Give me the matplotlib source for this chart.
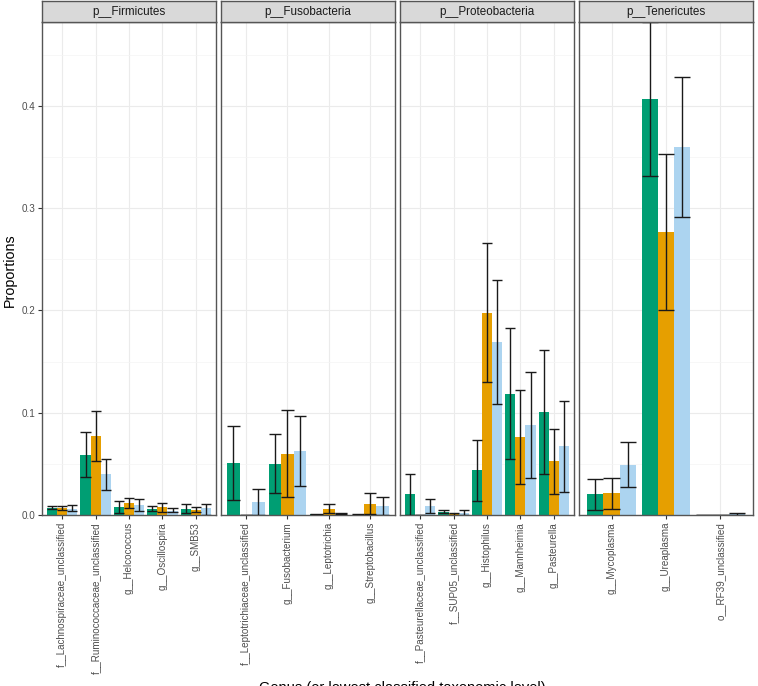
import numpy as np
import matplotlib
matplotlib.use("Agg")
import matplotlib.pyplot as plt

plt.rcParams["font.family"] = ["Liberation Sans", "DejaVu Sans"]

# ── données ───────────────────────────────────────────────────
phyla = ["p__Firmicutes", "p__Fusobacteria", "p__Proteobacteria", "p__Tenericutes"]

taxa_firmicutes = ["f__Lachnospiraceae_unclassified", "f__Ruminococcaceae_unclassified",
                   "g__Helcococcus", "g__Oscillospira", "g__SMB53"]
taxa_fusobacteria = ["f__Leptotrichiaceae_unclassified", "g__Fusobacterium",
                     "g__Leptotrichia", "g__Streptobacillus"]
taxa_proteobacteria = ["f__Pasteurellaceae_unclassified", "f__SUP05_unclassified",
                       "g__Histophilus", "g__Mannheimia", "g__Pasteurella"]
taxa_tenericutes = ["g__Mycoplasma", "g__Ureaplasma", "o__RF39_unclassified"]
taxa = [taxa_firmicutes, taxa_fusobacteria, taxa_proteobacteria, taxa_tenericutes]

# groupe 1 (vert)
g1_mean = [0.0071, 0.0587, 0.0078, 0.0062, 0.0062,
           0.0506, 0.0502, 0.0005, 0.0003,
           0.0208, 0.0030, 0.0437, 0.1184, 0.1005,
           0.0203, 0.4068, 0.0]
g1_low = [0.0056, 0.0369, 0.0017, 0.0040, 0.0020,
          0.0147, 0.0212, 0.0, 0.0,
          0.0, 0.0015, 0.0140, 0.0545, 0.0398,
          0.0046, 0.3317, 0.0]
g1_high = [0.0090, 0.0810, 0.0137, 0.0085, 0.0108,
           0.0868, 0.0790, 0.0010, 0.0006,
           0.0404, 0.0045, 0.0734, 0.1830, 0.1618,
           0.0355, 0.4820, 0.0]

# groupe 2 (orange)
g2_mean = [0.0065, 0.0773, 0.0114, 0.0075, 0.0052,
           0.0, 0.0597, 0.0062, 0.0110,
           0.0, 0.0010, 0.1973, 0.0760, 0.0525,
           0.0212, 0.2766, 0.0]
g2_low = [0.0046, 0.0531, 0.0065, 0.0030, 0.0030,
          0.0, 0.0173, 0.0015, 0.0010,
          0.0, 0.0, 0.1298, 0.0300, 0.0203,
          0.0062, 0.2000, 0.0]
g2_high = [0.0085, 0.1018, 0.0169, 0.0114, 0.0075,
           0.0, 0.1027, 0.0108, 0.0212,
           0.0, 0.0020, 0.2658, 0.1223, 0.0841,
           0.0365, 0.3530, 0.0]

# groupe 3 (bleu clair)
g3_mean = [0.0055, 0.0401, 0.0095, 0.0040, 0.0071,
           0.0127, 0.0626, 0.0010, 0.0088,
           0.0088, 0.0020, 0.1690, 0.0880, 0.0672,
           0.0489, 0.3594, 0.0008]
g3_low = [0.0039, 0.0245, 0.0042, 0.0030, 0.0,
          0.0, 0.0287, 0.0005, 0.0,
          0.0015, 0.0, 0.1086, 0.0365, 0.0222,
          0.0274, 0.2913, 0.0001]
g3_high = [0.0100, 0.0551, 0.0160, 0.0072, 0.0110,
           0.0257, 0.0972, 0.0015, 0.0176,
           0.0160, 0.0045, 0.2300, 0.1400, 0.1118,
           0.0717, 0.4279, 0.0015]

series = [(g1_mean, g1_low, g1_high, "#009E73"),
          (g2_mean, g2_low, g2_high, "#E69F00"),
          (g3_mean, g3_low, g3_high, "#ACD4F0")]

# ── mise en page (pixels -> fraction) ─────────────────────────
W, H = 758, 686
fig = plt.figure(figsize=(W / 100, H / 100), dpi=100)

lefts = [42, 221, 400, 579]
pw = 174
p_top, p_bot = 22, 515
s_top = 1

tick_col = "#4D4D4D"
border = "#555555"

start = 0
for k, (phylum, cats) in enumerate(zip(phyla, taxa)):
    n = len(cats)
    sl = slice(start, start + n)
    start += n

    ax = fig.add_axes([lefts[k] / W, 1 - p_bot / H, pw / W, (p_bot - p_top) / H])
    x = np.arange(n)
    for j, (m, lo, hi, col) in enumerate(series):
        xs = x + (j - 1) * 0.3
        ax.bar(xs, m[sl], width=0.3, color=col, zorder=2, linewidth=0)
        ax.vlines(xs, lo[sl], hi[sl], color="#1A1A1A", lw=1.0, zorder=3)
        ax.hlines(lo[sl], xs - 0.15, xs + 0.15, color="#1A1A1A", lw=1.0, zorder=3)
        ax.hlines(hi[sl], xs - 0.15, xs + 0.15, color="#1A1A1A", lw=1.0, zorder=3)

    ax.set_xlim(-0.6, n - 0.4)
    ax.set_ylim(0, 0.482)
    ax.set_yticks([0, 0.1, 0.2, 0.3, 0.4])
    ax.set_yticks([0.05, 0.15, 0.25, 0.35, 0.45], minor=True)
    ax.set_xticks(x)
    ax.set_xticklabels(cats, rotation=90, fontsize=7.1, color=tick_col)
    ax.grid(which="major", color="#EBEBEB", lw=0.8)
    ax.grid(which="minor", axis="y", color="#F4F4F4", lw=0.5)
    ax.set_axisbelow(True)
    ax.tick_params(which="minor", length=0)
    ax.tick_params(axis="x", length=3, color="#333333", pad=2)
    if k == 0:
        ax.set_yticklabels(["0.0", "0.1", "0.2", "0.3", "0.4"])
        ax.tick_params(axis="y", length=3, color="#333333", labelsize=7.1,
                       labelcolor=tick_col, pad=2)
    else:
        ax.tick_params(axis="y", length=0, labelleft=False)
    for sp in ax.spines.values():
        sp.set_color(border)
        sp.set_linewidth(1.0)

    # bandeau du facet
    st = fig.add_axes([lefts[k] / W, 1 - p_top / H, pw / W, (p_top - s_top) / H])
    st.set_facecolor("#D9D9D9")
    st.set_xticks([])
    st.set_yticks([])
    for sp in st.spines.values():
        sp.set_color(border)
        sp.set_linewidth(1.0)
    st.text(0.5, 0.5, phylum, ha="center", va="center", fontsize=8.4,
            color="#1A1A1A", transform=st.transAxes)

fig.text(9.5 / W, 1 - 270 / H, "Proportions", rotation=90, ha="center",
         va="center", fontsize=10.3, color="black")
fig.text(402 / W, 5 / H, "Genus (or lowest classified taxonomic level)",
         ha="center", va="top", fontsize=10.5, color="black")

fig.savefig("out.png", dpi=100)
